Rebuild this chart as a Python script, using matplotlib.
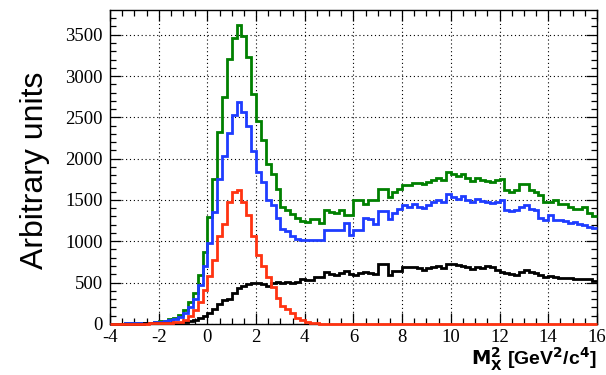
import numpy as np
import matplotlib.pyplot as plt
from matplotlib.ticker import MultipleLocator

plt.rcParams['axes.unicode_minus'] = False

# 100 bins of 0.2 GeV^2/c^4 from -4 to 16
edges = np.linspace(-4, 16, 101)

green = [0, 2, 3, 5, 6, 8, 10, 12, 15, 20,
         28, 40, 55, 75, 110, 170, 267, 372, 590, 871,
         1293, 1757, 2328, 2748, 3207, 3460, 3617, 3488, 3230, 2784,
         2450, 2230, 1938, 1817, 1636, 1415, 1375, 1326, 1280, 1250,
         1233, 1274, 1274, 1221, 1380, 1354, 1342, 1374, 1314, 1314,
         1495, 1495, 1455, 1495, 1495, 1636, 1636, 1536, 1596, 1636,
         1676, 1676, 1705, 1700, 1690, 1720, 1745, 1769, 1737, 1838,
         1818, 1785, 1818, 1769, 1729, 1769, 1737, 1729, 1717, 1737,
         1757, 1616, 1596, 1616, 1689, 1689, 1616, 1596, 1556, 1475,
         1475, 1503, 1455, 1450, 1415, 1395, 1395, 1415, 1342, 1302]

blue = [0, 2, 3, 4, 5, 6, 8, 10, 12, 16,
        22, 30, 42, 60, 85, 130, 200, 300, 470, 700,
        980, 1350, 1750, 2030, 2313, 2534, 2683, 2562, 2389, 2087,
        1837, 1717, 1503, 1435, 1286, 1153, 1125, 1060, 1032, 1012,
        1012, 1020, 1012, 1012, 1141, 1135, 1141, 1141, 1222, 1073,
        1141, 1141, 1286, 1274, 1214, 1362, 1362, 1274, 1342, 1395,
        1435, 1415, 1447, 1415, 1405, 1443, 1475, 1503, 1475, 1576,
        1535, 1515, 1542, 1503, 1475, 1515, 1487, 1475, 1463, 1475,
        1503, 1375, 1367, 1375, 1415, 1435, 1395, 1375, 1286, 1262,
        1314, 1262, 1254, 1246, 1222, 1230, 1210, 1193, 1170, 1161]

red = [0, 0, 0, 0, 1, 1, 2, 3, 4, 6,
       6, 8, 12, 16, 22, 46, 98, 167, 267, 408,
       577, 770, 1064, 1214, 1475, 1590, 1625, 1480, 1320, 1060,
       830, 700, 570, 440, 310, 220, 185, 125, 70, 45,
       25, 12, 6, 3, 1, 0, 0, 0, 0, 0,
       0, 0, 0, 0, 0, 0, 0, 0, 0, 0,
       0, 0, 0, 0, 0, 0, 0, 0, 0, 0,
       0, 0, 0, 0, 0, 0, 0, 0, 0, 0,
       0, 0, 0, 0, 0, 0, 0, 0, 0, 0,
       0, 0, 0, 0, 0, 0, 0, 0, 0, 0]

black = [0, 0, 1, 1, 2, 2, 3, 4, 5, 6,
         7, 8, 10, 12, 15, 20, 30, 45, 65, 95,
         135, 180, 245, 290, 300, 368, 428, 460, 477, 489,
         495, 480, 457, 490, 509, 500, 509, 500, 509, 537,
         530, 530, 569, 569, 622, 600, 595, 610, 642, 600,
         590, 610, 630, 620, 602, 722, 722, 590, 642, 645,
         690, 690, 682, 670, 650, 670, 690, 698, 670, 730,
         730, 710, 698, 690, 658, 682, 680, 698, 690, 650,
         630, 610, 600, 590, 630, 650, 630, 610, 590, 561,
         575, 570, 549, 555, 549, 540, 545, 540, 540, 521]

fig = plt.figure(figsize=(6.06, 3.75), dpi=100)
ax = fig.add_axes([0.1815, 0.1365, 0.8035, 0.8365])

ax.stairs(green, edges, color='#008000', lw=2.0, baseline=None, zorder=3, clip_on=False)
ax.stairs(blue, edges, color='#1e3cff', lw=2.0, baseline=None, zorder=3, clip_on=False)
ax.stairs(black, edges, color='black', lw=2.0, baseline=None, zorder=3, clip_on=False)
ax.stairs(red, edges, color='#ff3311', lw=2.0, baseline=None, zorder=4, clip_on=False)

ax.set_xlim(-4, 16)
ax.set_ylim(0, 3798)

ax.xaxis.set_major_locator(MultipleLocator(2))
ax.xaxis.set_minor_locator(MultipleLocator(0.5))
ax.yaxis.set_major_locator(MultipleLocator(500))
ax.yaxis.set_minor_locator(MultipleLocator(100))
ax.tick_params(which='both', direction='in', top=True, right=True, colors='black')
ax.tick_params(which='major', length=8, width=0.9)
ax.tick_params(which='minor', length=4, width=0.9)
ax.tick_params(axis='x', labelsize=13.5, pad=3.5)
ax.tick_params(axis='y', labelsize=13.5, pad=5)
for lab in ax.get_xticklabels() + ax.get_yticklabels():
    lab.set_fontfamily('Liberation Serif')

ax.grid(True, which='major', color='black', linestyle=(0, (1, 2.5)), lw=0.8)
for s in ax.spines.values():
    s.set_linewidth(1.0)

fig.text(0.058, 0.545, 'Arbitrary units', rotation=90, ha='center', va='center',
         fontsize=23, family='Liberation Sans')
fig.text(0.985, 0.025, r'$\mathbf{M_X^2}$ [GeV$\mathbf{^2}$/c$\mathbf{^4}$]', ha='right', va='baseline',
         fontsize=14, family='Liberation Sans', fontweight='bold')

fig.savefig('out.png', dpi=100)
